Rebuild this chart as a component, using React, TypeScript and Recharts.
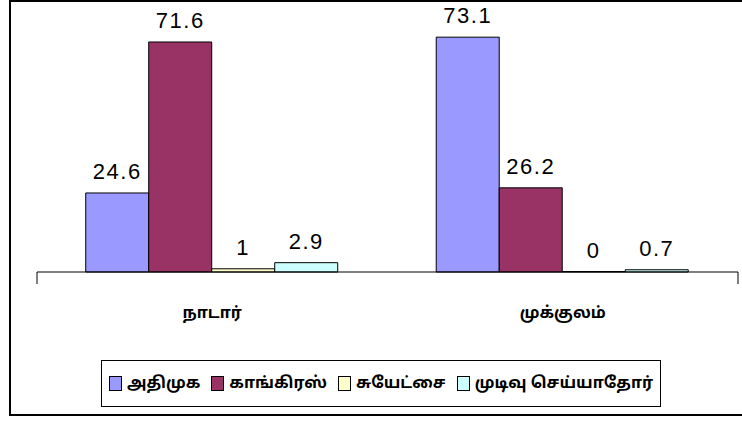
import { BarChart, Bar, XAxis, YAxis, LabelList } from 'recharts';

const categories = ['நாடார்', 'முக்குலம்'];
const seriesNames = ['அதிமுக', 'காங்கிரஸ்', 'சுயேட்சை', 'முடிவு செய்யாதோர்'];
const seriesColors = ['#9999FF', '#993366', '#FFFFCC', '#CCFFFF'];
const admk = [24.6, 73.1];
const congress = [71.6, 26.2];
const independent = [1, 0];
const undecided = [2.9, 0.7];
const edgeTicks = [0, 1, 2];

const seriesValues = [admk, congress, independent, undecided];
const keys = ['s0', 's1', 's2', 's3'];

const data = categories.map((name, i) => {
  const row: any = { name };
  keys.forEach((k, j) => {
    row[k] = seriesValues[j][i];
  });
  return row;
});

const tamilFont = '"Noto Sans Tamil", "Lohit Tamil", Latha, "Noto Sans", Arial, sans-serif';

const NoTick = () => <g />;

export default function App() {
  return (
    <div style={{ position: 'absolute', left: 0, top: 0, width: 742, height: 423, background: '#fff' }}>
      <div
        style={{
          position: 'absolute',
          left: 9,
          top: 0,
          width: 740,
          height: 416,
          border: '2px solid #000',
          boxSizing: 'border-box',
        }}
      />
      <div style={{ position: 'absolute', left: 0, top: 0 }}>
        <BarChart
          width={742}
          height={423}
          data={data}
          margin={{ top: 15, right: 4, left: 37, bottom: 110 }}
          barGap={0}
          barCategoryGap="13.9%"
        >
          <XAxis
            xAxisId="cat"
            dataKey="name"
            axisLine={false}
            tickLine={false}
            height={40}
            tickMargin={28}
            tick={{ fill: '#000', fontSize: 16, fontWeight: 'bold', fontFamily: tamilFont }}
          />
          <XAxis
            xAxisId="aEdges"
            type="number"
            domain={[0, categories.length]}
            ticks={edgeTicks}
            interval={0}
            tick={NoTick}
            tickSize={12}
            height={1}
            stroke="#000"
            allowDecimals={false}
          />
          <YAxis hide domain={[0, 80]} />
          {keys.map((k, j) => (
            <Bar
              key={k}
              xAxisId="cat"
              dataKey={k}
              name={seriesNames[j]}
              fill={seriesColors[j]}
              stroke="#000"
              strokeWidth={1}
              minPointSize={0.5}
              isAnimationActive={false}
            >
              <LabelList
                dataKey={k}
                position="top"
                offset={14}
                style={{ fill: '#000', fontSize: 22, fontFamily: 'Arial, "Liberation Sans", sans-serif', letterSpacing: 1.5 }}
              />
            </Bar>
          ))}
        </BarChart>
      </div>
      <div
        style={{
          position: 'absolute',
          left: 101,
          top: 360,
          width: 560,
          height: 47,
          border: '1px solid #000',
          boxSizing: 'border-box',
          display: 'flex',
          alignItems: 'center',
          justifyContent: 'center',
          gap: 11,
          fontFamily: tamilFont,
          fontWeight: 'bold',
          fontSize: 16,
          color: '#000',
          whiteSpace: 'nowrap',
        }}
      >
        {seriesNames.map((n, j) => (
          <div key={n} style={{ display: 'flex', alignItems: 'center', gap: 5 }}>
            <span
              style={{
                display: 'inline-block',
                width: 11,
                height: 13,
                background: seriesColors[j],
                border: '1px solid #000',
              }}
            />
            <span>{n}</span>
          </div>
        ))}
      </div>
    </div>
  );
}
